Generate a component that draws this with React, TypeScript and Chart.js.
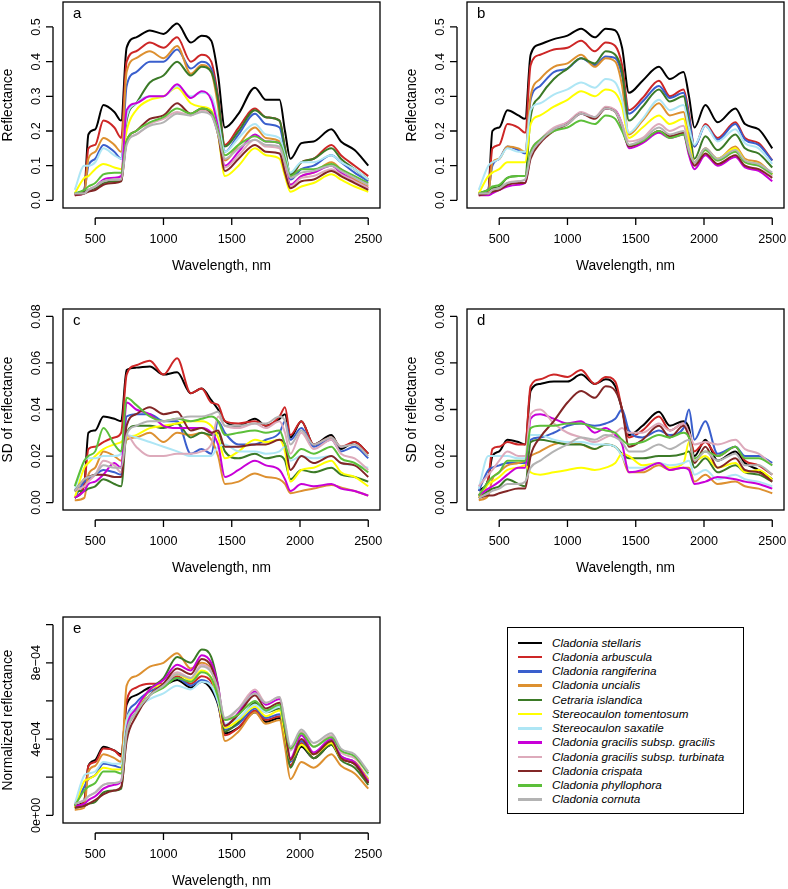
import React, { useEffect, useRef } from "react";
import { Chart, registerables } from "chart.js";
Chart.register(...registerables);

// ---------- DATA ----------
const WAVELENGTH = [350, 420, 450, 500, 560, 640, 690, 730, 800, 900, 1000, 1100, 1200, 1280, 1350, 1400, 1450, 1550, 1670, 1750, 1850, 1890, 1930, 2010, 2100, 2230, 2300, 2400, 2500];

const SPECIES = [
  "Cladonia stellaris",
  "Cladonia arbuscula",
  "Cladonia rangiferina",
  "Cladonia uncialis",
  "Cetraria islandica",
  "Stereocaulon tomentosum",
  "Stereocaulon saxatile",
  "Cladonia gracilis subsp. gracilis",
  "Cladonia gracilis subsp. turbinata",
  "Cladonia crispata",
  "Cladonia phyllophora",
  "Cladonia cornuta",
];

const COLORS = ["#000000", "#CD2626", "#3A5FCD", "#DD9030", "#3B7A27", "#FFFF00", "#AEE6F5", "#C800D8", "#DDAABB", "#822626", "#5CBF3A", "#B3B3B3"];

const X_TICKS = [500, 1000, 1500, 2000, 2500];

// panel a: mean reflectance (rows follow SPECIES order)
const PANEL_A = [
  [0.02, 0.03, 0.19, 0.205, 0.275, 0.255, 0.23, 0.44, 0.47, 0.49, 0.48, 0.51, 0.455, 0.475, 0.46, 0.36, 0.21, 0.25, 0.325, 0.29, 0.29, 0.2, 0.12, 0.165, 0.17, 0.205, 0.17, 0.145, 0.1],
  [0.02, 0.03, 0.15, 0.16, 0.23, 0.21, 0.18, 0.4, 0.43, 0.455, 0.44, 0.47, 0.4, 0.42, 0.4, 0.3, 0.16, 0.21, 0.265, 0.24, 0.23, 0.15, 0.07, 0.11, 0.12, 0.16, 0.13, 0.1, 0.07],
  [0.02, 0.03, 0.1, 0.12, 0.16, 0.14, 0.12, 0.33, 0.37, 0.4, 0.4, 0.435, 0.38, 0.4, 0.38, 0.29, 0.14, 0.19, 0.25, 0.22, 0.21, 0.14, 0.06, 0.09, 0.1, 0.13, 0.11, 0.08, 0.055],
  [0.015, 0.02, 0.12, 0.14, 0.18, 0.16, 0.14, 0.37, 0.41, 0.43, 0.41, 0.445, 0.365, 0.39, 0.37, 0.27, 0.115, 0.16, 0.21, 0.18, 0.17, 0.1, 0.045, 0.07, 0.08, 0.11, 0.09, 0.06, 0.04],
  [0.02, 0.025, 0.03, 0.035, 0.05, 0.055, 0.055, 0.23, 0.28, 0.34, 0.36, 0.4, 0.36, 0.385, 0.37, 0.29, 0.155, 0.2, 0.26, 0.24, 0.23, 0.15, 0.075, 0.11, 0.12, 0.15, 0.12, 0.09, 0.06],
  [0.02, 0.065, 0.07, 0.09, 0.105, 0.095, 0.09, 0.2, 0.26, 0.29, 0.3, 0.325, 0.28, 0.27, 0.26, 0.19, 0.07, 0.1, 0.15, 0.13, 0.12, 0.07, 0.025, 0.04, 0.05, 0.075, 0.06, 0.04, 0.025],
  [0.03, 0.1, 0.1, 0.11, 0.15, 0.13, 0.12, 0.24, 0.28, 0.3, 0.3, 0.33, 0.3, 0.31, 0.3, 0.23, 0.14, 0.18, 0.22, 0.19, 0.18, 0.13, 0.08, 0.11, 0.11, 0.13, 0.11, 0.09, 0.06],
  [0.015, 0.02, 0.03, 0.04, 0.06, 0.065, 0.07, 0.26, 0.28, 0.3, 0.3, 0.335, 0.295, 0.315, 0.29, 0.21, 0.1, 0.14, 0.19, 0.17, 0.165, 0.1, 0.045, 0.07, 0.08, 0.1, 0.08, 0.055, 0.035],
  [0.02, 0.02, 0.03, 0.04, 0.055, 0.06, 0.06, 0.17, 0.19, 0.22, 0.235, 0.255, 0.245, 0.26, 0.25, 0.2, 0.095, 0.13, 0.175, 0.155, 0.15, 0.09, 0.04, 0.065, 0.07, 0.09, 0.075, 0.055, 0.035],
  [0.015, 0.02, 0.025, 0.03, 0.045, 0.05, 0.055, 0.17, 0.2, 0.235, 0.245, 0.28, 0.25, 0.265, 0.25, 0.19, 0.085, 0.12, 0.16, 0.14, 0.135, 0.08, 0.035, 0.055, 0.06, 0.085, 0.07, 0.05, 0.03],
  [0.02, 0.03, 0.04, 0.05, 0.075, 0.08, 0.08, 0.17, 0.2, 0.225, 0.24, 0.265, 0.25, 0.265, 0.255, 0.2, 0.13, 0.16, 0.185, 0.17, 0.165, 0.12, 0.07, 0.09, 0.09, 0.105, 0.09, 0.07, 0.05],
  [0.02, 0.02, 0.03, 0.04, 0.055, 0.06, 0.06, 0.16, 0.19, 0.215, 0.225, 0.25, 0.245, 0.255, 0.245, 0.19, 0.12, 0.15, 0.175, 0.16, 0.155, 0.11, 0.065, 0.08, 0.085, 0.1, 0.085, 0.065, 0.045],
];

// panel b: mean reflectance
const PANEL_B = [
  [0.02, 0.03, 0.2, 0.21, 0.26, 0.245, 0.235, 0.42, 0.45, 0.465, 0.475, 0.495, 0.47, 0.495, 0.49, 0.44, 0.31, 0.345, 0.385, 0.35, 0.37, 0.3, 0.21, 0.275, 0.225, 0.265, 0.22, 0.205, 0.15],
  [0.02, 0.03, 0.15, 0.16, 0.22, 0.21, 0.195, 0.39, 0.42, 0.435, 0.44, 0.46, 0.43, 0.455, 0.445, 0.39, 0.26, 0.295, 0.345, 0.3, 0.32, 0.25, 0.155, 0.22, 0.18, 0.225, 0.18, 0.165, 0.115],
  [0.02, 0.03, 0.1, 0.12, 0.155, 0.145, 0.135, 0.29, 0.33, 0.37, 0.38, 0.41, 0.39, 0.415, 0.41, 0.36, 0.25, 0.285, 0.33, 0.295, 0.31, 0.24, 0.155, 0.215, 0.175, 0.22, 0.175, 0.16, 0.115],
  [0.015, 0.02, 0.11, 0.12, 0.155, 0.15, 0.14, 0.3, 0.35, 0.385, 0.395, 0.42, 0.385, 0.41, 0.4, 0.33, 0.19, 0.23, 0.28, 0.245, 0.255, 0.18, 0.11, 0.15, 0.12, 0.155, 0.12, 0.11, 0.075],
  [0.02, 0.03, 0.035, 0.04, 0.065, 0.07, 0.07, 0.24, 0.3, 0.35, 0.38, 0.41, 0.395, 0.43, 0.42, 0.37, 0.23, 0.27, 0.32, 0.285, 0.3, 0.22, 0.12, 0.185, 0.145, 0.19, 0.15, 0.135, 0.095],
  [0.02, 0.07, 0.08, 0.09, 0.11, 0.11, 0.11, 0.22, 0.245, 0.27, 0.29, 0.315, 0.3, 0.32, 0.31, 0.27, 0.18, 0.21, 0.245, 0.22, 0.235, 0.17, 0.105, 0.145, 0.12, 0.15, 0.115, 0.105, 0.075],
  [0.03, 0.1, 0.11, 0.12, 0.15, 0.14, 0.14, 0.26, 0.28, 0.305, 0.32, 0.34, 0.325, 0.35, 0.34, 0.29, 0.195, 0.235, 0.29, 0.26, 0.275, 0.21, 0.16, 0.215, 0.17, 0.205, 0.165, 0.15, 0.105],
  [0.015, 0.015, 0.02, 0.03, 0.04, 0.045, 0.05, 0.13, 0.17, 0.205, 0.225, 0.25, 0.24, 0.265, 0.26, 0.22, 0.15, 0.165, 0.195, 0.18, 0.19, 0.13, 0.09, 0.13, 0.1, 0.125, 0.095, 0.085, 0.055],
  [0.02, 0.02, 0.03, 0.035, 0.05, 0.055, 0.06, 0.14, 0.175, 0.21, 0.225, 0.255, 0.24, 0.27, 0.26, 0.22, 0.17, 0.18, 0.22, 0.2, 0.215, 0.15, 0.105, 0.145, 0.115, 0.14, 0.11, 0.1, 0.07],
  [0.015, 0.02, 0.025, 0.03, 0.045, 0.05, 0.05, 0.12, 0.165, 0.2, 0.22, 0.25, 0.235, 0.265, 0.255, 0.21, 0.155, 0.17, 0.2, 0.185, 0.195, 0.14, 0.1, 0.135, 0.105, 0.13, 0.1, 0.09, 0.065],
  [0.02, 0.03, 0.04, 0.045, 0.065, 0.07, 0.07, 0.14, 0.175, 0.2, 0.21, 0.23, 0.22, 0.245, 0.235, 0.2, 0.16, 0.17, 0.2, 0.18, 0.19, 0.14, 0.11, 0.145, 0.115, 0.14, 0.11, 0.1, 0.075],
  [0.02, 0.02, 0.03, 0.035, 0.05, 0.055, 0.06, 0.13, 0.17, 0.205, 0.22, 0.25, 0.24, 0.265, 0.255, 0.215, 0.16, 0.175, 0.21, 0.19, 0.2, 0.145, 0.11, 0.15, 0.12, 0.145, 0.115, 0.105, 0.08],
];

// panel c: SD of reflectance
const PANEL_C = [
  [0.002, 0.008, 0.03, 0.031, 0.037, 0.036, 0.035, 0.057, 0.058, 0.0585, 0.055, 0.056, 0.047, 0.049, 0.044, 0.04, 0.035, 0.033, 0.036, 0.033, 0.036, 0.038, 0.028, 0.035, 0.025, 0.029, 0.023, 0.026, 0.021],
  [0.002, 0.008, 0.023, 0.024, 0.026, 0.028, 0.03, 0.055, 0.059, 0.061, 0.055, 0.062, 0.047, 0.049, 0.043, 0.042, 0.035, 0.034, 0.035, 0.033, 0.037, 0.041, 0.029, 0.035, 0.025, 0.028, 0.024, 0.026, 0.021],
  [0.002, 0.009, 0.01, 0.012, 0.014, 0.013, 0.012, 0.037, 0.038, 0.038, 0.035, 0.035, 0.021, 0.023, 0.021, 0.035, 0.03, 0.025, 0.025, 0.027, 0.03, 0.035, 0.027, 0.032, 0.024, 0.027, 0.022, 0.024, 0.019],
  [0.001, 0.002, 0.012, 0.015, 0.022, 0.02, 0.018, 0.027, 0.028, 0.03, 0.026, 0.03, 0.029, 0.03, 0.027, 0.02, 0.008, 0.009, 0.0125, 0.011, 0.01, 0.008, 0.004, 0.005, 0.006, 0.0075, 0.0065, 0.005, 0.003],
  [0.005, 0.005, 0.006, 0.007, 0.01, 0.008, 0.007, 0.03, 0.033, 0.033, 0.032, 0.034, 0.028, 0.03, 0.029, 0.03, 0.022, 0.019, 0.021, 0.019, 0.02, 0.018, 0.01, 0.014, 0.013, 0.015, 0.012, 0.011, 0.009],
  [0.002, 0.015, 0.017, 0.02, 0.023, 0.025, 0.026, 0.028, 0.029, 0.032, 0.033, 0.034, 0.035, 0.035, 0.033, 0.028, 0.019, 0.022, 0.027, 0.026, 0.027, 0.022, 0.009, 0.014, 0.015, 0.018, 0.013, 0.011, 0.007],
  [0.005, 0.018, 0.019, 0.019, 0.02, 0.02, 0.021, 0.029, 0.028, 0.026, 0.024, 0.022, 0.02, 0.02, 0.02, 0.024, 0.025, 0.022, 0.022, 0.021, 0.022, 0.024, 0.018, 0.02, 0.019, 0.02, 0.017, 0.016, 0.015],
  [0.002, 0.005, 0.008, 0.009, 0.012, 0.017, 0.015, 0.043, 0.04, 0.038, 0.033, 0.032, 0.032, 0.032, 0.03, 0.025, 0.011, 0.014, 0.018, 0.016, 0.014, 0.01, 0.005, 0.008, 0.007, 0.008, 0.006, 0.005, 0.003],
  [0.005, 0.007, 0.009, 0.012, 0.018, 0.016, 0.013, 0.029, 0.024, 0.02, 0.02, 0.021, 0.021, 0.022, 0.025, 0.037, 0.033, 0.032, 0.034, 0.032, 0.035, 0.03, 0.021, 0.03, 0.023, 0.027, 0.021, 0.019, 0.014],
  [0.005, 0.01, 0.011, 0.012, 0.012, 0.011, 0.011, 0.033, 0.038, 0.041, 0.038, 0.039, 0.031, 0.032, 0.03, 0.031, 0.024, 0.024, 0.025, 0.025, 0.027, 0.025, 0.014, 0.02, 0.017, 0.02, 0.017, 0.016, 0.011],
  [0.007, 0.018, 0.02, 0.022, 0.032, 0.025, 0.022, 0.045, 0.042, 0.037, 0.035, 0.036, 0.035, 0.036, 0.037, 0.035, 0.029, 0.03, 0.031, 0.03, 0.031, 0.025, 0.019, 0.023, 0.021, 0.024, 0.019, 0.017, 0.013],
  [0.005, 0.01, 0.011, 0.012, 0.016, 0.015, 0.015, 0.029, 0.033, 0.035, 0.035, 0.036, 0.037, 0.037, 0.038, 0.039, 0.033, 0.033, 0.034, 0.034, 0.037, 0.035, 0.025, 0.031, 0.025, 0.028, 0.024, 0.025, 0.02],
];

// panel d: SD of reflectance
const PANEL_D = [
  [0.005, 0.01, 0.02, 0.022, 0.027, 0.026, 0.025, 0.048, 0.051, 0.052, 0.052, 0.055, 0.051, 0.053, 0.05, 0.04, 0.029, 0.033, 0.039, 0.033, 0.035, 0.032, 0.02, 0.027, 0.018, 0.022, 0.017, 0.014, 0.01],
  [0.003, 0.01, 0.023, 0.024, 0.026, 0.025, 0.025, 0.05, 0.053, 0.055, 0.054, 0.057, 0.051, 0.054, 0.052, 0.04, 0.028, 0.031, 0.037, 0.031, 0.034, 0.03, 0.022, 0.026, 0.02, 0.024, 0.018, 0.016, 0.012],
  [0.005, 0.014, 0.015, 0.016, 0.017, 0.017, 0.017, 0.027, 0.028, 0.03, 0.033, 0.034, 0.033, 0.034, 0.036, 0.04, 0.031, 0.028, 0.031, 0.029, 0.032, 0.04, 0.027, 0.035, 0.021, 0.024, 0.02, 0.02, 0.017],
  [0.001, 0.003, 0.01, 0.013, 0.016, 0.017, 0.018, 0.02, 0.022, 0.025, 0.026, 0.025, 0.023, 0.025, 0.024, 0.02, 0.013, 0.013, 0.016, 0.014, 0.015, 0.015, 0.009, 0.012, 0.008, 0.009, 0.007, 0.006, 0.004],
  [0.002, 0.005, 0.006, 0.007, 0.01, 0.008, 0.007, 0.026, 0.027, 0.026, 0.025, 0.025, 0.023, 0.025, 0.024, 0.021, 0.019, 0.019, 0.02, 0.02, 0.021, 0.022, 0.015, 0.019, 0.013, 0.016, 0.013, 0.012, 0.009],
  [0.002, 0.008, 0.009, 0.011, 0.014, 0.015, 0.016, 0.013, 0.012, 0.013, 0.014, 0.015, 0.014, 0.015, 0.017, 0.021, 0.02, 0.016, 0.017, 0.015, 0.017, 0.026, 0.018, 0.02, 0.015, 0.017, 0.013, 0.014, 0.01],
  [0.006, 0.02, 0.02, 0.02, 0.02, 0.019, 0.019, 0.029, 0.029, 0.027, 0.026, 0.026, 0.025, 0.025, 0.024, 0.02, 0.015, 0.015, 0.017, 0.016, 0.017, 0.018, 0.012, 0.014, 0.01, 0.012, 0.01, 0.009, 0.007],
  [0.003, 0.006, 0.007, 0.009, 0.012, 0.015, 0.015, 0.036, 0.038, 0.036, 0.034, 0.035, 0.03, 0.032, 0.029, 0.025, 0.013, 0.014, 0.017, 0.014, 0.015, 0.014, 0.008, 0.009, 0.011, 0.01, 0.009, 0.008, 0.006],
  [0.007, 0.012, 0.014, 0.018, 0.022, 0.02, 0.02, 0.038, 0.04, 0.034, 0.03, 0.028, 0.026, 0.028, 0.03, 0.032, 0.03, 0.03, 0.034, 0.031, 0.034, 0.03, 0.025, 0.026, 0.025, 0.027, 0.023, 0.021, 0.016],
  [0.002, 0.003, 0.003, 0.004, 0.005, 0.006, 0.006, 0.02, 0.028, 0.035, 0.043, 0.048, 0.045, 0.05, 0.048, 0.04, 0.024, 0.027, 0.033, 0.028, 0.033, 0.028, 0.017, 0.024, 0.015, 0.019, 0.014, 0.013, 0.009],
  [0.003, 0.009, 0.011, 0.013, 0.018, 0.018, 0.018, 0.032, 0.033, 0.033, 0.034, 0.034, 0.032, 0.031, 0.03, 0.027, 0.025, 0.026, 0.029, 0.028, 0.03, 0.028, 0.019, 0.022, 0.02, 0.024, 0.019, 0.019, 0.016],
  [0.002, 0.004, 0.005, 0.006, 0.008, 0.008, 0.009, 0.015, 0.018, 0.022, 0.025, 0.028, 0.027, 0.029, 0.028, 0.026, 0.022, 0.022, 0.025, 0.023, 0.026, 0.027, 0.018, 0.022, 0.018, 0.021, 0.016, 0.016, 0.012],
];

// panel e: normalized reflectance, in units of 1e-4
const PANEL_E_1E4 = [
  [0.5, 0.8, 2.6, 2.9, 3.6, 3.4, 3.2, 5.8, 6.3, 6.7, 6.8, 7.1, 6.7, 7.0, 6.6, 5.8, 4.3, 4.6, 5.4, 4.9, 5.1, 4.0, 2.6, 3.6, 3.0, 3.7, 3.0, 2.7, 1.7],
  [0.5, 0.7, 2.6, 2.8, 3.5, 3.4, 3.1, 6.0, 6.7, 6.9, 6.9, 7.3, 6.9, 7.3, 7.0, 6.0, 4.2, 4.6, 5.5, 5.0, 5.2, 4.1, 2.6, 3.8, 3.0, 3.8, 3.0, 2.7, 1.8],
  [0.5, 1.5, 1.9, 2.1, 2.7, 2.6, 2.5, 5.0, 5.9, 6.5, 6.8, 7.2, 6.8, 7.1, 6.8, 5.9, 4.5, 4.8, 5.6, 5.1, 5.3, 4.2, 2.8, 3.9, 3.2, 3.9, 3.1, 2.8, 1.9],
  [0.3, 0.4, 2.3, 2.6, 3.2, 3.0, 2.8, 6.8, 7.3, 7.8, 8.0, 8.5, 7.7, 8.0, 7.6, 6.3, 3.9, 4.4, 5.4, 4.8, 5.0, 3.6, 1.9, 2.8, 2.5, 3.2, 2.6, 2.2, 1.4],
  [0.4, 0.5, 0.6, 0.7, 1.2, 1.3, 1.4, 4.2, 5.4, 6.6, 7.2, 8.3, 8.0, 8.7, 8.3, 6.8, 4.4, 4.9, 5.9, 5.4, 5.6, 4.2, 2.5, 3.7, 3.0, 3.7, 2.9, 2.5, 1.6],
  [0.4, 1.8, 1.9, 2.1, 2.5, 2.4, 2.4, 5.0, 5.6, 6.6, 6.9, 7.4, 7.1, 7.6, 7.2, 6.0, 4.6, 5.0, 5.7, 5.2, 5.5, 4.2, 2.9, 3.7, 3.2, 3.8, 3.0, 2.8, 1.9],
  [0.6, 2.1, 2.2, 2.3, 2.8, 2.7, 2.7, 5.0, 5.6, 6.1, 6.4, 6.8, 6.6, 7.0, 6.8, 6.0, 4.8, 5.1, 5.8, 5.4, 5.7, 4.6, 3.4, 4.2, 3.6, 4.1, 3.4, 3.1, 2.1],
  [0.5, 0.6, 0.8, 1.0, 1.4, 1.6, 1.8, 4.5, 5.6, 6.6, 7.1, 7.9, 7.6, 8.4, 8.0, 6.8, 4.7, 5.4, 6.5, 5.8, 6.1, 4.6, 3.0, 4.2, 3.3, 4.0, 3.1, 2.8, 1.8],
  [0.6, 0.8, 1.0, 1.2, 1.6, 1.7, 1.8, 4.3, 5.3, 6.3, 6.9, 7.5, 7.2, 7.9, 7.6, 6.6, 5.0, 5.6, 6.6, 5.9, 6.2, 4.8, 3.4, 4.4, 3.6, 4.2, 3.3, 3.0, 2.2],
  [0.4, 0.5, 0.6, 0.8, 1.1, 1.3, 1.5, 3.9, 5.2, 6.3, 6.9, 7.7, 7.4, 8.2, 7.8, 6.6, 4.7, 5.3, 6.3, 5.6, 5.9, 4.5, 2.9, 4.0, 3.2, 3.9, 3.0, 2.7, 1.7],
  [0.5, 1.3, 1.5, 1.7, 2.3, 2.3, 2.2, 4.4, 5.4, 6.3, 6.7, 7.2, 7.0, 7.5, 7.2, 6.2, 5.0, 5.3, 6.0, 5.5, 5.8, 4.6, 3.5, 4.3, 3.6, 4.1, 3.4, 3.1, 2.2],
  [0.6, 0.8, 1.0, 1.2, 1.6, 1.7, 1.8, 4.3, 5.4, 6.3, 6.8, 7.4, 7.2, 7.8, 7.5, 6.6, 5.1, 5.6, 6.4, 5.9, 6.2, 4.9, 3.6, 4.5, 3.8, 4.3, 3.5, 3.2, 2.3],
];

const Y_TICKS_REFL = [0, 0.1, 0.2, 0.3, 0.4, 0.5];
const Y_LABELS_REFL = ["0.0", "0.1", "0.2", "0.3", "0.4", "0.5"];
const Y_TICKS_SD = [0, 0.02, 0.04, 0.06, 0.08];
const Y_LABELS_SD = ["0.00", "0.02", "0.04", "0.06", "0.08"];
const Y_TICKS_NORM = [0, 0.0002, 0.0004, 0.0006, 0.0008, 0.001];
const Y_LABELS_NORM = ["0e+00", "", "4e\u221204", "", "8e\u221204", ""];

// ---------- DRAWING ----------
const FONT = "'Liberation Sans', Arial, Helvetica, sans-serif";

type PanelProps = {
  letter: string;
  left: number;
  top: number;
  width: number;
  height: number;
  pad: { left: number; top: number; right: number; bottom: number };
  yMin: number;
  yMax: number;
  yTicks: number[];
  yLabels: string[];
  yTitle: string;
  rows: number[][];
  scale?: number;
};

function makeAxesPlugin(p: PanelProps) {
  return {
    id: "rAxes" + p.letter,
    afterDraw(chart: any) {
      const { ctx, chartArea } = chart;
      const { left, top, right, bottom } = chartArea;
      const xs = chart.scales.x;
      const ys = chart.scales.y;
      ctx.save();
      ctx.strokeStyle = "#000";
      ctx.fillStyle = "#000";
      ctx.lineWidth = 1.3;
      ctx.strokeRect(left, top, right - left, bottom - top);

      // x axis
      const ay = bottom + 10;
      const px = X_TICKS.map((v) => xs.getPixelForValue(v));
      ctx.beginPath();
      ctx.moveTo(px[0], ay);
      ctx.lineTo(px[px.length - 1], ay);
      px.forEach((x) => {
        ctx.moveTo(x, ay);
        ctx.lineTo(x, ay + 7);
      });
      ctx.stroke();
      ctx.font = `12.6px ${FONT}`;
      ctx.textAlign = "center";
      ctx.textBaseline = "middle";
      X_TICKS.forEach((v, i) => ctx.fillText(String(v), px[i], bottom + 32));
      ctx.font = `13.8px ${FONT}`;
      ctx.fillText("Wavelength, nm", (left + right) / 2, bottom + 58);

      // y axis
      const ax = left - 10;
      const py = p.yTicks.map((v) => ys.getPixelForValue(v));
      ctx.beginPath();
      ctx.moveTo(ax, py[0]);
      ctx.lineTo(ax, py[py.length - 1]);
      py.forEach((y) => {
        ctx.moveTo(ax, y);
        ctx.lineTo(ax - 7, y);
      });
      ctx.stroke();
      ctx.font = `12.6px ${FONT}`;
      p.yLabels.forEach((lab, i) => {
        if (!lab) return;
        ctx.save();
        ctx.translate(left - 26, py[i]);
        ctx.rotate(-Math.PI / 2);
        ctx.fillText(lab, 0, 0);
        ctx.restore();
      });
      ctx.save();
      ctx.font = `13.8px ${FONT}`;
      ctx.translate(left - 55, (top + bottom) / 2);
      ctx.rotate(-Math.PI / 2);
      ctx.fillText(p.yTitle, 0, 0);
      ctx.restore();

      // panel letter
      ctx.font = `15px ${FONT}`;
      ctx.textAlign = "left";
      ctx.fillText(p.letter, left + 10, top + 12);
      ctx.restore();
    },
  };
}

function Panel(p: PanelProps) {
  const ref = useRef<HTMLCanvasElement | null>(null);
  useEffect(() => {
    if (!ref.current) return;
    const k = p.scale ?? 1;
    const chart = new Chart(ref.current, {
      type: "line",
      data: {
        datasets: p.rows.map((row, i) => ({
          label: SPECIES[i],
          data: WAVELENGTH.map((w, j) => ({ x: w, y: row[j] * k })),
          borderColor: COLORS[i],
          backgroundColor: COLORS[i],
          borderWidth: 2,
          pointRadius: 0,
          fill: false,
          cubicInterpolationMode: "monotone",
          order: p.rows.length - 1 - i,
        })),
      },
      options: {
        animation: false,
        responsive: false,
        events: [],
        layout: { padding: p.pad },
        plugins: { legend: { display: false }, tooltip: { enabled: false } },
        scales: {
          x: { type: "linear", min: 264, max: 2586, display: false },
          y: { type: "linear", min: p.yMin, max: p.yMax, display: false },
        },
      } as any,
      plugins: [makeAxesPlugin(p)],
    } as any);
    return () => chart.destroy();
  }, []);
  return (
    <canvas
      ref={ref}
      width={p.width}
      height={p.height}
      style={{ position: "absolute", left: p.left, top: p.top, width: p.width, height: p.height }}
    />
  );
}

function Legend() {
  return (
    <div
      style={{
        position: "absolute",
        left: 507,
        top: 627,
        width: 235,
        height: 185,
        border: "1.3px solid #000",
        background: "#fff",
        fontFamily: FONT,
        fontStyle: "italic",
        fontSize: "11.7px",
      }}
    >
      {SPECIES.map((s, i) => (
        <div
          key={s}
          style={{ position: "absolute", left: 0, top: 14.7 + i * 14.24 - 7, height: 14, width: "100%", display: "flex", alignItems: "center" }}
        >
          <div style={{ position: "absolute", left: 10, top: 6, width: 24, height: 2.5, background: COLORS[i] }} />
          <span style={{ position: "absolute", left: 44, top: 0, lineHeight: "14px", whiteSpace: "nowrap" }}>{s}</span>
        </div>
      ))}
    </div>
  );
}

export default function App() {
  return (
    <div style={{ position: "absolute", left: 0, top: 0, width: 788, height: 889, background: "#fff", overflow: "hidden" }}>
      <Panel letter="a" left={0} top={0} width={394} height={290} pad={{ left: 63, top: 2, right: 14, bottom: 82 }}
        yMin={-0.022} yMax={0.572} yTicks={Y_TICKS_REFL} yLabels={Y_LABELS_REFL} yTitle="Reflectance" rows={PANEL_A} />
      <Panel letter="b" left={404} top={0} width={384} height={290} pad={{ left: 63, top: 2, right: 4, bottom: 82 }}
        yMin={-0.022} yMax={0.572} yTicks={Y_TICKS_REFL} yLabels={Y_LABELS_REFL} yTitle="Reflectance" rows={PANEL_B} />
      <Panel letter="c" left={0} top={295} width={394} height={295} pad={{ left: 63, top: 14, right: 14, bottom: 80 }}
        yMin={-0.0032} yMax={0.0832} yTicks={Y_TICKS_SD} yLabels={Y_LABELS_SD} yTitle="SD of reflectance" rows={PANEL_C} />
      <Panel letter="d" left={404} top={295} width={384} height={295} pad={{ left: 63, top: 14, right: 4, bottom: 80 }}
        yMin={-0.0032} yMax={0.0832} yTicks={Y_TICKS_SD} yLabels={Y_LABELS_SD} yTitle="SD of reflectance" rows={PANEL_D} />
      <Panel letter="e" left={0} top={595} width={394} height={294} pad={{ left: 63, top: 22, right: 14, bottom: 66 }}
        yMin={-0.00004} yMax={0.00104} yTicks={Y_TICKS_NORM} yLabels={Y_LABELS_NORM} yTitle="Normalized reflectance" rows={PANEL_E_1E4} scale={1e-4} />
      <Legend />
    </div>
  );
}
